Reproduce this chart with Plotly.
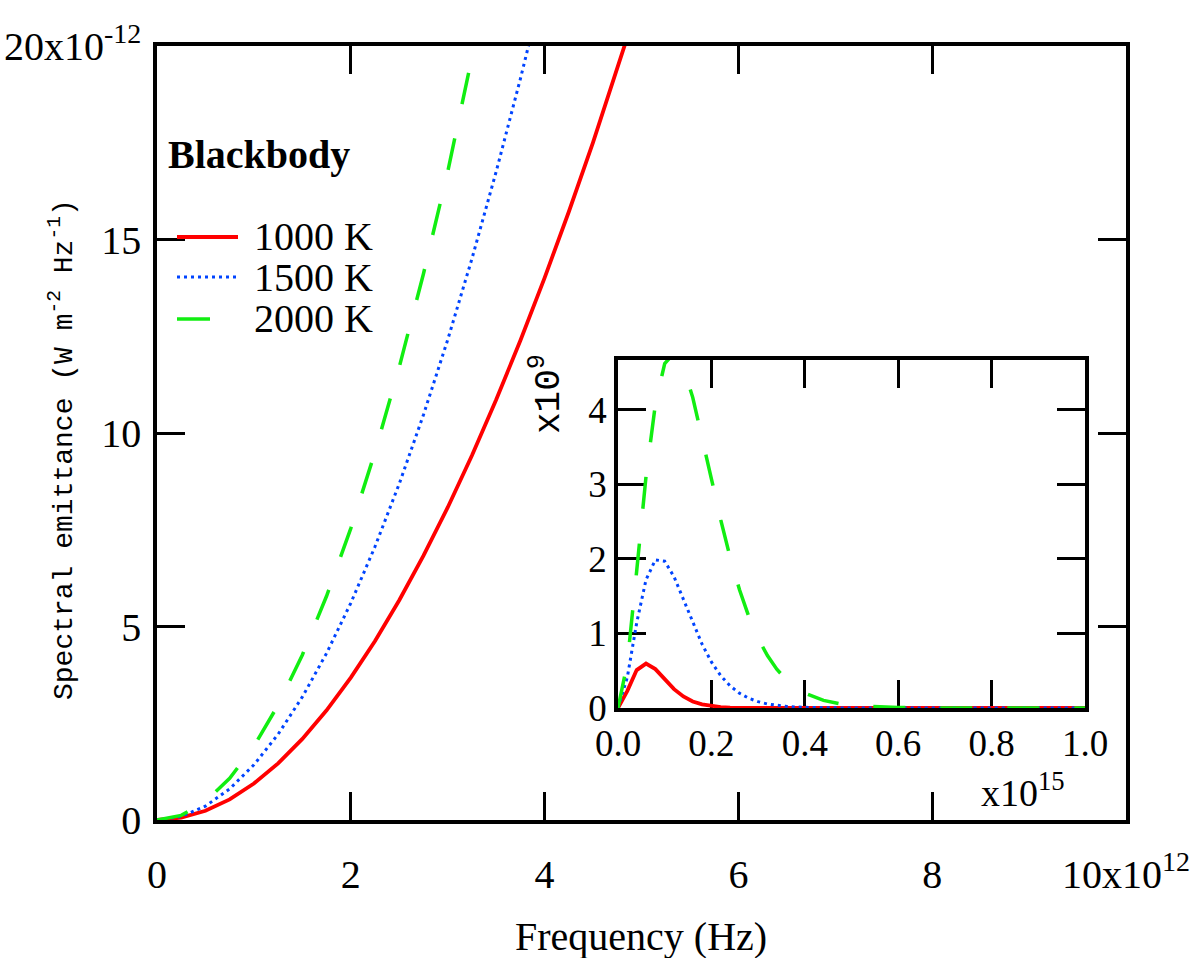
import plotly.graph_objects as go

# ---------------- data ----------------
# main panel: frequency in units of 1e12 Hz, emittance in units of 1e-12 W m^-2 Hz^-1
main_freq = [0, 0.25, 0.5, 0.75, 1.0, 1.25, 1.5, 1.75, 2.0, 2.25, 2.5, 2.75,
             3.0, 3.25, 3.5, 3.75, 4.0, 4.25, 4.5, 4.75, 5.0]
main_1000K = [0, 0.060, 0.238, 0.533, 0.942, 1.463, 2.094, 2.834, 3.679, 4.627,
              5.678, 6.829, 8.076, 9.420, 10.858, 12.388, 14.009, 15.717, 17.511,
              19.389, 21.35]
main_1500K = [0, 0.090, 0.359, 0.805, 1.425, 2.217, 3.180, 4.310, 5.606, 7.066,
              8.687, 10.471, 12.409, 14.503, 16.751, 19.151, 21.699]
main_2000K = [0, 0.120, 0.480, 1.076, 1.907, 2.971, 4.265, 5.788, 7.537, 9.509,
              11.703, 14.116, 16.750, 19.599, 22.661]

# inset: frequency in units of 1e15 Hz, emittance in units of 1e-9
inset_freq = [0, 0.02, 0.04, 0.06, 0.08, 0.10, 0.12, 0.14, 0.16, 0.18, 0.20,
              0.22, 0.24, 0.26, 0.28, 0.30, 0.32, 0.34, 0.36, 0.38, 0.40,
              0.44, 0.48, 0.52, 0.56, 0.60, 0.70, 0.80, 0.90, 1.00]
inset_1000K = [0, 0.230, 0.509, 0.596, 0.522, 0.385, 0.253, 0.154, 0.088, 0.048,
               0.025, 0.013, 0.006, 0.003, 0.0015, 0.0007, 0.0003, 0.0001, 0, 0,
               0, 0, 0, 0, 0, 0, 0, 0, 0, 0]
inset_1500K = [0, 0.414, 1.142, 1.721, 1.988, 1.970, 1.761, 1.458, 1.143, 0.856,
               0.618, 0.433, 0.297, 0.199, 0.131, 0.085, 0.054, 0.034, 0.022, 0.013,
               0.008, 0.003, 0.001, 0.0003, 0, 0, 0, 0, 0, 0]
inset_2000K = [0, 0.602, 1.839, 3.106, 4.075, 4.623, 4.761, 4.574, 4.169, 3.641,
               3.076, 2.524, 2.024, 1.590, 1.228, 0.935, 0.703, 0.521, 0.382, 0.278,
               0.201, 0.102, 0.051, 0.025, 0.012, 0.006, 0.001, 0, 0, 0]

series_names = ["1000 K", "1500 K", "2000 K"]
main_xticks = [0, 2, 4, 6, 8, 10]
main_xticktext = ["0", "2", "4", "6", "8", "10x10<sup>12</sup>"]
main_yticks = [0, 5, 10, 15, 20]
main_yticktext = ["0", "5", "10", "15", "20x10<sup>-12</sup>"]
inset_xticks = [0, 0.2, 0.4, 0.6, 0.8, 1.0]
inset_xticktext = ["0.0", "0.2", "0.4", "0.6", "0.8", "1.0"]
inset_yticks = [0, 1, 2, 3, 4]
inset_yticktext = ["0", "1", "2", "3", "4"]

# ---------------- styling ----------------
W, H = 1196, 958
L, R, T, B = 157, 70, 46, 138
PW, PH = W - L - R, H - T - B


def px(xp):
    return (xp - L) / PW


def py(yp):
    return (H - B - yp) / PH


RED = "#ff0000"
BLUE = "#0044ff"
GREEN = "#11ee11"
styles = [
    dict(color=RED, width=3.8, dash="solid"),
    dict(color=BLUE, width=3, dash="3px,4px"),
    dict(color=GREEN, width=3.5, dash="32px,35px"),
]

FS = 40
serif = "Liberation Serif, Times New Roman, serif"
narrow = "Liberation Mono, DejaVu Sans Mono, monospace"

fig = go.Figure()

main_series = [main_1000K, main_1500K, main_2000K]
inset_series = [inset_1000K, inset_1500K, inset_2000K]
for name, ys, st in zip(series_names, main_series, styles):
    fig.add_trace(go.Scatter(x=main_freq[:len(ys)], y=ys, mode="lines", name=name,
                             line=st, xaxis="x", yaxis="y", showlegend=False))
for name, ys, st in zip(series_names, inset_series, styles):
    fig.add_trace(go.Scatter(x=inset_freq, y=ys, mode="lines", name=name,
                             line=st, xaxis="x2", yaxis="y2", showlegend=False))

axis_common = dict(showline=True, linecolor="black", linewidth=3.5, mirror="allticks",
                   ticks="inside", ticklen=28, tickwidth=3, tickcolor="black",
                   showgrid=False, zeroline=False, layer="below traces",
                   automargin=False)

fig.update_layout(
    width=W, height=H,
    margin=dict(l=L, r=R, t=T, b=B),
    paper_bgcolor="white", plot_bgcolor="white",
    showlegend=False,
    font=dict(family=serif, size=FS, color="black"),
    xaxis=dict(domain=[0, 1], anchor="y", range=[0, 10], tickvals=main_xticks,
               ticktext=main_xticktext, ticklabelstandoff=16,
               tickfont=dict(family=serif, size=FS, color="black"), **axis_common),
    yaxis=dict(domain=[0, 1], anchor="x", range=[0, 20], tickvals=main_yticks,
               ticktext=main_yticktext, ticklabelstandoff=4,
               tickfont=dict(family=serif, size=FS, color="black"), **axis_common),
    xaxis2=dict(domain=[px(618), px(1085)], anchor="y2", range=[0, 1.0],
                tickvals=inset_xticks, ticktext=inset_xticktext, ticklabelstandoff=0,
                tickfont=dict(family=serif, size=37, color="black"), **axis_common),
    yaxis2=dict(domain=[py(708), py(360)], anchor="x2", range=[0, 4.67],
                tickvals=inset_yticks, ticktext=inset_yticktext,
                tickfont=dict(family=serif, size=37, color="black"), **axis_common),
)

annotations = [
    dict(text="<b>Blackbody</b>", x=px(166), y=py(155), xanchor="left", yanchor="middle",
         font=dict(family=serif, size=FS)),
    dict(text="Frequency (Hz)", x=px(641), y=py(936), xanchor="center", yanchor="middle",
         font=dict(family=serif, size=FS)),
    dict(text="Spectral emittance (W m<sup>-2</sup> Hz<sup>-1</sup>)", x=px(62), y=py(450),
         textangle=-90, xanchor="center", yanchor="middle",
         font=dict(family=narrow, size=28)),
    dict(text="x10<sup>9</sup>", x=px(546), y=py(394), textangle=-90,
         xanchor="center", yanchor="middle", font=dict(family=narrow, size=36)),
    dict(text="x10<sup>15</sup>", x=px(1023), y=py(790), xanchor="center", yanchor="middle",
         font=dict(family=serif, size=38)),
]
legend_rows = [237, 277, 319]
legend_ends = [238, 236, 210]
shapes = []
for name, st, yrow, xend in zip(series_names, styles, legend_rows, legend_ends):
    shapes.append(dict(type="line", xref="paper", yref="paper", x0=px(177), x1=px(xend),
                       y0=py(yrow), y1=py(yrow),
                       line=dict(color=st["color"], width=st["width"],
                                 dash="solid" if st["color"] == GREEN else st["dash"])))
    annotations.append(dict(text=name, x=px(252), y=py(yrow), xanchor="left",
                            yanchor="middle", font=dict(family=serif, size=FS)))

for a in annotations:
    a.update(xref="paper", yref="paper", showarrow=False)

fig.update_layout(annotations=annotations, shapes=shapes)

fig.write_html("out.html")
